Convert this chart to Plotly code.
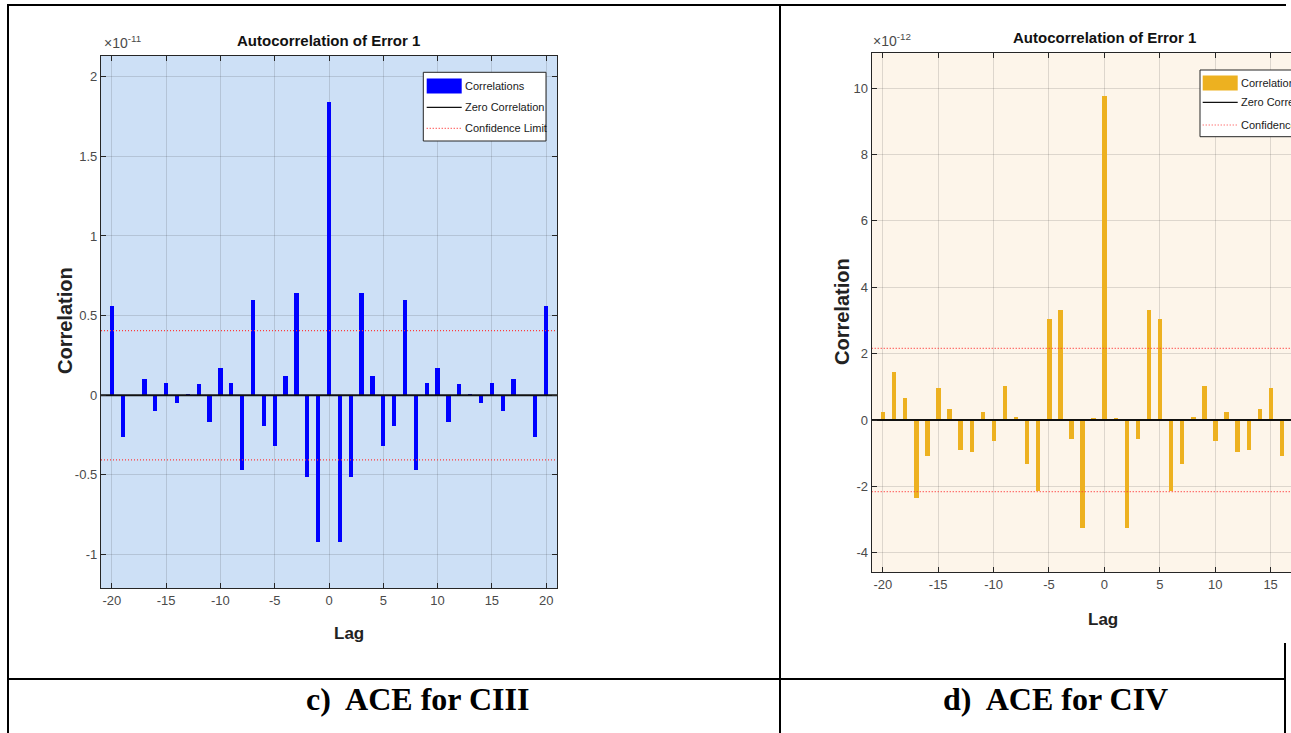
import plotly.graph_objects as go

# ---------------- data ----------------
lags = [-20, -19, -18, -17, -16, -15, -14, -13, -12, -11, -10, -9, -8, -7, -6, -5, -4, -3, -2, -1,
        0, 1, 2, 3, 4, 5, 6, 7, 8, 9, 10, 11, 12, 13, 14, 15, 16, 17, 18, 19, 20]

# CIII autocorrelation (units of 1e-11)
ciii_corr = [0.56, -0.26, 0.0, 0.10, -0.10, 0.08, -0.05, 0.005, 0.07, -0.17, 0.17, 0.08, -0.47, 0.60,
             -0.19, -0.32, 0.12, 0.64, -0.51, -0.92,
             1.84,
             -0.92, -0.51, 0.64, 0.12, -0.32, -0.19, 0.60, -0.47, 0.08, 0.17, -0.17, 0.07, 0.005,
             -0.05, 0.08, -0.10, 0.10, 0.0, -0.26, 0.56]
ciii_conf = 0.406

# CIV autocorrelation (units of 1e-12)
civ_corr = [0.23, 1.44, 0.64, -2.37, -1.09, 0.97, 0.33, -0.92, -0.97, 0.23, -0.65, 1.02, 0.08, -1.34,
            -2.16, 3.03, 3.31, -0.57, -3.25, 0.03,
            9.74,
            0.03, -3.25, -0.57, 3.31, 3.03, -2.16, -1.34, 0.08, 1.02, -0.65, 0.23, -0.97, -0.92,
            0.33, 0.97, -1.09, -2.37, 0.64, 1.44, 0.23]
civ_conf = 2.16

x_ticks = [-20, -15, -10, -5, 0, 5, 10, 15, 20]
x_ticktext = ["-20", "-15", "-10", "-5", "0", "5", "10", "15", "20"]
ciii_yticks = [-1, -0.5, 0, 0.5, 1, 1.5, 2]
ciii_yticktext = ["-1", "-0.5", "0", "0.5", "1", "1.5", "2"]
civ_yticks = [-4, -2, 0, 2, 4, 6, 8, 10]
civ_yticktext = ["-4", "-2", "0", "2", "4", "6", "8", "10"]

ciii_xrange = [-21, 21]
ciii_yrange = [-1.21, 2.13]
civ_xrange = [-21, 16.84]
civ_yrange = [-4.58, 11.05]

titles = ["Autocorrelation of Error 1", "Autocorrelation of Error 1"]
captions = ["c)  ACE for CIII", "d)  ACE for CIV"]
legend_labels = ["Correlations", "Zero Correlation", "Confidence Limit"]

# ---------------- layout helpers ----------------
W, H = 1291, 733
def px(x):
    return x / W
def py(y):
    return 1 - y / H

SANS = "Liberation Sans, Arial, sans-serif"
SERIF = "Liberation Serif, Times New Roman, serif"
TICKCOL = "#4a4a4a"
GRID = "rgba(38,38,38,0.15)"
CONF_DASH = "1px,2px"

fig = go.Figure()

def add_panel(xa, ya, corr, conf, color, xrange):
    fig.add_trace(go.Bar(x=lags, y=corr, width=0.4, marker=dict(color=color, line=dict(width=0)),
                         xaxis=xa, yaxis=ya, showlegend=False, name=legend_labels[0]))
    fig.add_trace(go.Scatter(x=xrange, y=[0, 0], mode="lines", line=dict(color="#111111", width=2),
                             xaxis=xa, yaxis=ya, showlegend=False, name=legend_labels[1]))
    for c in (conf, -conf):
        fig.add_trace(go.Scatter(x=xrange, y=[c, c], mode="lines",
                                 line=dict(color="#ff3b3b", width=1.2, dash=CONF_DASH),
                                 xaxis=xa, yaxis=ya, showlegend=False, name=legend_labels[2]))

add_panel("x", "y", ciii_corr, ciii_conf, "#0000ff", ciii_xrange)
add_panel("x2", "y2", civ_corr, civ_conf, "#EDB120", civ_xrange)

axis_common = dict(ticks="inside", ticklen=5, tickwidth=1, tickcolor="#262626",
                   showline=True, linecolor="#262626", linewidth=1.3,
                   showgrid=True, gridcolor=GRID, gridwidth=1, zeroline=False,
                   tickfont=dict(family=SANS, size=13, color=TICKCOL))

fig.update_layout(
    width=W, height=H, margin=dict(l=0, r=0, t=0, b=0),
    paper_bgcolor="white", plot_bgcolor="white", bargap=0,
    xaxis=dict(domain=[px(101), px(557)], range=ciii_xrange, tickvals=x_ticks, ticktext=x_ticktext,
               mirror="ticks", anchor="y", **axis_common),
    yaxis=dict(domain=[py(588), py(56)], range=ciii_yrange, tickvals=ciii_yticks,
               ticktext=ciii_yticktext, mirror="ticks", anchor="x", **axis_common),
    xaxis2=dict(domain=[px(871.7), 1.0], range=civ_xrange, tickvals=x_ticks, ticktext=x_ticktext,
                mirror="ticks", anchor="y2", **axis_common),
    yaxis2=dict(domain=[py(572), py(53.3)], range=civ_yrange, tickvals=civ_yticks,
                ticktext=civ_yticktext, mirror=False, anchor="x2", **axis_common),
)

shapes = []
# plot backgrounds
shapes.append(dict(type="rect", xref="x domain", yref="y domain", x0=0, x1=1, y0=0, y1=1,
                   fillcolor="#cde0f6", line=dict(width=0), layer="below"))
shapes.append(dict(type="rect", xref="x2 domain", yref="y2 domain", x0=0, x1=1, y0=0, y1=1,
                   fillcolor="#fdf5ea", line=dict(width=0), layer="below"))

# table borders
def line(x0, y0, x1, y1, w=2):
    shapes.append(dict(type="line", xref="paper", yref="paper", x0=px(x0), y0=py(y0), x1=px(x1), y1=py(y1),
                       line=dict(color="black", width=w)))
line(7, 5, 1286, 5)
line(8, 4, 8, 733)
line(780, 4, 780, 733)
line(7, 679, 1286, 679)
line(1285, 643, 1285, 733)

annotations = []
def text(x, y, s, size, family=SANS, color="#222222", xanchor="center", yanchor="middle", bold=False, angle=0):
    if bold:
        s = "<b>" + s + "</b>"
    annotations.append(dict(xref="paper", yref="paper", x=px(x), y=py(y), text=s, showarrow=False,
                            font=dict(family=family, size=size, color=color),
                            xanchor=xanchor, yanchor=yanchor, textangle=angle))

# legends
def legend(x0, y0, x1, y1, color, ents_y, sw_x0, sw_x1):
    shapes.append(dict(type="rect", xref="paper", yref="paper", x0=px(x0), x1=px(x1), y0=py(y1), y1=py(y0),
                       fillcolor="white", line=dict(color="#262626", width=1)))
    shapes.append(dict(type="rect", xref="paper", yref="paper", x0=px(sw_x0), x1=px(sw_x1),
                       y0=py(ents_y[0] + 7.5), y1=py(ents_y[0] - 7.5),
                       fillcolor=color, line=dict(width=0)))
    shapes.append(dict(type="line", xref="paper", yref="paper", x0=px(sw_x0), x1=px(sw_x1),
                       y0=py(ents_y[1]), y1=py(ents_y[1]), line=dict(color="#111111", width=1.3)))
    shapes.append(dict(type="line", xref="paper", yref="paper", x0=px(sw_x0), x1=px(sw_x1),
                       y0=py(ents_y[2]), y1=py(ents_y[2]), line=dict(color="#ff3b3b", width=1.2, dash=CONF_DASH)))
    for lbl, yy in zip(legend_labels, ents_y):
        text(sw_x1 + 1.5, yy, lbl, 11, xanchor="left", color="#1a1a1a")

legend(423.3, 72.3, 546, 141, "#0000ff", [86, 107.3, 128.3], 426.7, 461.7)
legend(1200, 70, 1340, 136.7, "#EDB120", [83, 102.3, 125], 1202.7, 1237.7)

# titles
text(328.5, 40, titles[0], 15, bold=True, color="#111111")
text(1104, 38, titles[1], 15, bold=True, color="#111111")
# exponents
text(102, 53, "\u00d710<sup>-11</sup>", 14, xanchor="left", yanchor="bottom", color=TICKCOL)
text(871, 51, "\u00d710<sup>-12</sup>", 14, xanchor="left", yanchor="bottom", color=TICKCOL)
# axis labels
text(65, 321, "Correlation", 20, bold=True, angle=-90, color="#222222")
text(842, 312, "Correlation", 20, bold=True, angle=-90, color="#222222")
text(348.5, 633, "Lag", 17, bold=True, color="#222222")
text(1103, 619, "Lag", 17, bold=True, color="#222222")
# captions
text(418, 699, captions[0], 32, family=SERIF, bold=True, color="black")
text(1055, 699, captions[1], 32, family=SERIF, bold=True, color="black")

fig.update_layout(shapes=shapes, annotations=annotations)
fig.write_html("out.html", config={"displayModeBar": False},
               post_script="document.body.style.margin='0';document.body.style.overflow='hidden';")
